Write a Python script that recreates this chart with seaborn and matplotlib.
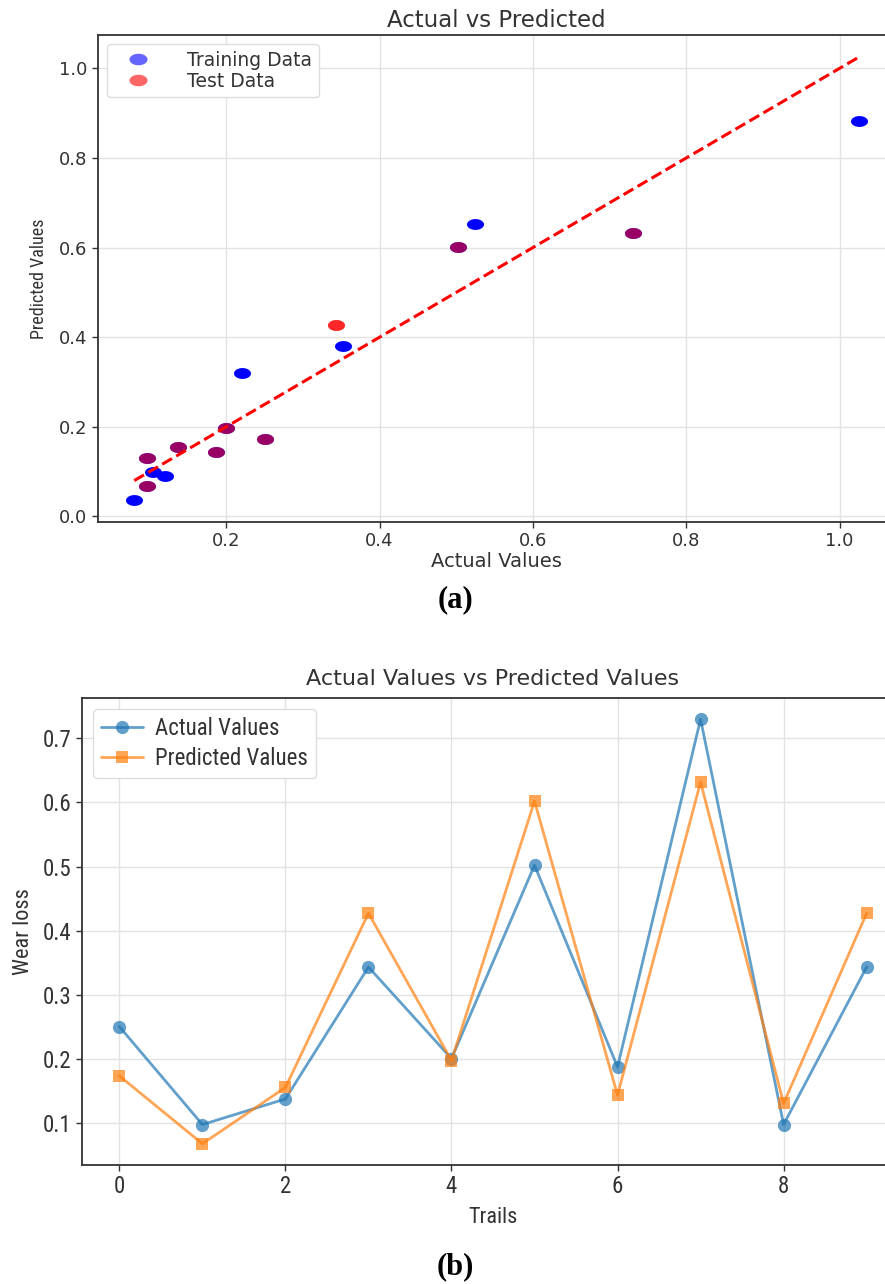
import numpy as np
import pandas as pd
import matplotlib
matplotlib.use("Agg")
import matplotlib.pyplot as plt
import seaborn as sns
from matplotlib import font_manager as fm
from matplotlib.path import Path
from matplotlib.markers import MarkerStyle
from matplotlib.lines import Line2D

# ---------------- data ----------------
# (a) scatter: actual vs predicted
train_actual = [0.080, 0.105, 0.120, 0.220, 0.352, 0.525, 1.025,
                0.250, 0.097, 0.097, 0.137, 0.187, 0.200, 0.502, 0.730]
train_pred = [0.037, 0.100, 0.091, 0.320, 0.381, 0.653, 0.883,
              0.173, 0.067, 0.130, 0.155, 0.143, 0.197, 0.602, 0.632]
# (b) line chart over trials (also the test set of (a))
trials = [0, 1, 2, 3, 4, 5, 6, 7, 8, 9]
test_actual = [0.250, 0.097, 0.137, 0.343, 0.200, 0.502, 0.187, 0.730, 0.097, 0.343]
test_pred = [0.173, 0.067, 0.155, 0.427, 0.197, 0.602, 0.143, 0.632, 0.130, 0.427]

top_xticks = [0.2, 0.4, 0.6, 0.8, 1.0]
top_yticks = [0.0, 0.2, 0.4, 0.6, 0.8, 1.0]
bot_xticks = [0, 2, 4, 6, 8]
bot_yticks = [0.1, 0.2, 0.3, 0.4, 0.5, 0.6, 0.7]

# ---------------- style ----------------
sns.set_style("ticks")
plt.rcParams['font.family'] = ['DejaVu Sans']
avail = {f.name for f in fm.fontManager.ttflist}
narrow = next((n for n in ['Liberation Sans Narrow', 'DejaVu Sans Condensed',
                           'Noto Sans Condensed', 'Roboto Condensed',
                           'Open Sans Condensed'] if n in avail), None)
if narrow is not None:
    nfam = [narrow, 'DejaVu Sans']
    nscale = 1.0
else:
    nfam = ['DejaVu Sans']
    nscale = 0.78
serif = next((n for n in ['Liberation Serif', 'DejaVu Serif'] if n in avail), 'serif')

TXT = '#333333'
SPINE = '#333333'
GRID = '#e3e3e3'

fig = plt.figure(figsize=(8.85, 12.84), dpi=100)
W, H = 885.0, 1284.0
ax1 = fig.add_axes([98 / W, 1 - 522 / H, (895 - 98) / W, (522 - 35) / H])
ax2 = fig.add_axes([82 / W, 1 - 1165 / H, (904 - 82) / W, (1165 - 698) / H])

# ellipse marker (the source image is stretched horizontally)
t = np.linspace(0, 2 * np.pi, 64)
ell = MarkerStyle(Path(np.column_stack([np.cos(t), 0.64 * np.sin(t)]), closed=True))

# ---------------- (a) ----------------
df_tr = pd.DataFrame({'Actual': train_actual, 'Predicted': train_pred})
df_te = pd.DataFrame({'Actual': test_actual, 'Predicted': test_pred})
sns.scatterplot(data=df_tr, x='Actual', y='Predicted', ax=ax1, color='blue',
                marker=ell, s=150, linewidth=0, alpha=1.0, zorder=3)
sns.scatterplot(data=df_te, x='Actual', y='Predicted', ax=ax1, color='red',
                marker=ell, s=150, linewidth=0, alpha=0.6, zorder=4)
lo = min(min(train_actual), min(test_actual))
hi = max(max(train_actual), max(test_actual))
ax1.plot([lo, hi], [lo, hi], color='red', linestyle='--', linewidth=2.2, zorder=5)

ax1.set_xticks(top_xticks)
ax1.set_yticks(top_yticks)
ax1.set_xticklabels([f"{v:.1f}" for v in top_xticks])
ax1.set_yticklabels([f"{v:.1f}" for v in top_yticks])
ax1.tick_params(labelsize=13, colors=TXT, length=4, width=1)
ax1.grid(True, color=GRID, linewidth=1)
ax1.set_axisbelow(True)
ax1.set_title('Actual vs Predicted', fontsize=16.5, color=TXT, pad=6)
ax1.set_xlabel('Actual Values', fontsize=14, color=TXT, labelpad=1)
ax1.set_ylabel('Predicted Values', fontsize=13 * nscale,
               family=nfam, color=TXT, labelpad=8)
for sp in ax1.spines.values():
    sp.set_color(SPINE)
    sp.set_linewidth(1.3)
h1 = [Line2D([], [], linestyle='none', marker=ell, markersize=13,
             markerfacecolor='blue', markeredgewidth=0, alpha=0.6),
      Line2D([], [], linestyle='none', marker=ell, markersize=13,
             markerfacecolor='red', markeredgewidth=0, alpha=0.6)]
leg1 = ax1.legend(h1, ['Training Data', 'Test Data'], loc='upper left',
                  fontsize=13.5, handlelength=2.6, handletextpad=1.3,
                  labelspacing=0.1, borderpad=0.35, framealpha=1,
                  edgecolor='#dddddd', fancybox=True)
for tx in leg1.get_texts():
    tx.set_color(TXT)

# ---------------- (b) ----------------
df_b = pd.DataFrame({'Trails': trials * 2,
                     'Wear loss': test_actual + test_pred,
                     'Series': ['Actual Values'] * len(trials) + ['Predicted Values'] * len(trials)})
sns.lineplot(data=df_b[df_b['Series'] == 'Actual Values'], x='Trails', y='Wear loss',
             ax=ax2, color='#1f77b4', marker='o', markersize=9.5, linewidth=2,
             markeredgewidth=0, alpha=0.7, label='Actual Values')
sns.lineplot(data=df_b[df_b['Series'] == 'Predicted Values'], x='Trails', y='Wear loss',
             ax=ax2, color='#ff7f0e', marker='s', markersize=9, linewidth=2,
             markeredgewidth=0, alpha=0.7, label='Predicted Values')
ax2.set_xticks(bot_xticks)
ax2.set_yticks(bot_yticks)
ax2.set_xticklabels([str(v) for v in bot_xticks], family=nfam)
ax2.set_yticklabels([f"{v:.1f}" for v in bot_yticks], family=nfam)
ax2.tick_params(labelsize=16.5 * nscale, colors=TXT, length=4, width=1)
ax2.grid(True, color=GRID, linewidth=1)
ax2.set_axisbelow(True)
ax2.set_title('Actual Values vs Predicted Values', fontsize=16, color=TXT, pad=9)
ax2.set_xlabel('Trails', fontsize=16 * nscale, family=nfam, color=TXT, labelpad=6)
ax2.set_ylabel('Wear loss', fontsize=16 * nscale, family=nfam, color=TXT, labelpad=6)
for sp in ax2.spines.values():
    sp.set_color(SPINE)
    sp.set_linewidth(1.3)
leg2 = ax2.legend(loc='upper left', prop={'family': nfam, 'size': 16.5 * nscale},
                  handlelength=1.8, handletextpad=0.55, labelspacing=0.3,
                  borderpad=0.35, framealpha=1, edgecolor='#dddddd', fancybox=True)
for tx in leg2.get_texts():
    tx.set_color(TXT)

# panel labels
fig.text(455 / W, 1 - 600 / H, '(a)', family=serif, fontweight='bold',
         fontsize=22, ha='center', va='center', color='black')
fig.text(455 / W, 1 - 1267 / H, '(b)', family=serif, fontweight='bold',
         fontsize=22, ha='center', va='center', color='black')

fig.savefig('out.png', dpi=100, facecolor='white')
